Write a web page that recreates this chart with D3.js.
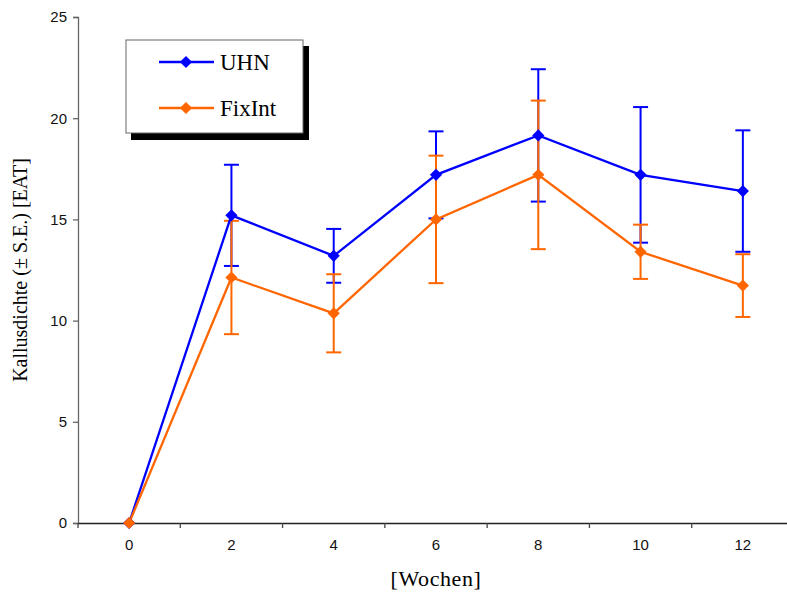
<!DOCTYPE html>
<html>
<head>
<meta charset="utf-8">
<script src="https://cdn.jsdelivr.net/npm/d3@7"></script>
<style>
  body { margin: 0; background: #fff; }
  svg { display: block; }
</style>
</head>
<body>
<svg id="chart"></svg>
<script>
// Wochen nach OP
const weeks = ["0", "2", "4", "6", "8", "10", "12"];
const yTicks = [0, 5, 10, 15, 20, 25];

// Kallusdichte, Mittelwert und Standardfehler
const uhnMean = [0, 15.2, 13.2, 17.2, 19.15, 17.2, 16.4];
const uhnSE = [0, 2.5, 1.33, 2.15, 3.27, 3.35, 3.0];
const fixMean = [0, 12.13, 10.36, 15.0, 17.2, 13.4, 11.73];
const fixSE = [0, 2.8, 1.93, 3.15, 3.67, 1.34, 1.55];

const seriesNames = ["UHN", "FixInt"];
const seriesColors = ["#0000ff", "#ff6600"];

const width = 787, height = 595;
const plot = { left: 78, right: 794, top: 17, bottom: 523 };

const svg = d3.select("#chart")
  .attr("width", width)
  .attr("height", height);

const x = d3.scaleBand()
  .domain(weeks)
  .range([plot.left, plot.right]);

const y = d3.scaleLinear()
  .domain([0, 25])
  .range([plot.bottom, plot.top]);

const cx = d => x(d) + x.bandwidth() / 2;

// Y-Achse
const yAxis = svg.append("g")
  .attr("transform", `translate(${plot.left},0)`)
  .call(d3.axisLeft(y).tickValues(yTicks).tickSize(5).tickPadding(6));
yAxis.select(".domain").attr("stroke", "#666").attr("stroke-width", 1.3);
yAxis.selectAll(".tick line").attr("stroke", "#666").attr("stroke-width", 1.3);
yAxis.selectAll("text")
  .style("font-family", "'Liberation Sans', Arial, sans-serif")
  .style("font-size", "15px")
  .attr("fill", "#111");

// X-Achse (Ticks zwischen den Kategorien, wie in Excel)
const xAxis = svg.append("g")
  .attr("transform", `translate(0,${plot.bottom})`)
  .call(d3.axisBottom(x).tickSize(0).tickPadding(16));
xAxis.select(".domain").attr("stroke", "#222").attr("stroke-width", 1.3);
xAxis.selectAll("text")
  .style("font-family", "'Liberation Sans', Arial, sans-serif")
  .style("font-size", "15px")
  .attr("fill", "#111");
xAxis.selectAll(".sep")
  .data(weeks)
  .enter()
  .append("line")
  .attr("class", "sep")
  .attr("x1", d => x(d))
  .attr("x2", d => x(d))
  .attr("y1", 0)
  .attr("y2", 5)
  .attr("stroke", "#444")
  .attr("stroke-width", 1.3);

// Achsentitel
svg.append("text")
  .attr("transform", `translate(27,${(plot.top + plot.bottom) / 2}) rotate(-90)`)
  .attr("text-anchor", "middle")
  .style("font-family", "'Liberation Serif', 'Times New Roman', serif")
  .style("font-size", "20px")
  .text("Kallusdichte (± S.E.) [EAT]");

svg.append("text")
  .attr("x", (plot.left + plot.right) / 2)
  .attr("y", 586)
  .attr("text-anchor", "middle")
  .style("font-family", "'Liberation Serif', 'Times New Roman', serif")
  .style("font-size", "22px")
  .style("letter-spacing", "0.6px")
  .text("[Wochen]");

const series = [
  { name: seriesNames[0], color: seriesColors[0], mean: uhnMean, se: uhnSE },
  { name: seriesNames[1], color: seriesColors[1], mean: fixMean, se: fixSE }
];

const rows = s => weeks.map((w, i) => ({ w, m: s.mean[i], e: s.se[i] }));

// Fehlerbalken
series.forEach(s => {
  const g = svg.append("g").attr("stroke", s.color).attr("stroke-width", 2);
  const data = rows(s).filter(d => d.e > 0);
  g.selectAll(".bar").data(data).enter().append("line")
    .attr("x1", d => cx(d.w)).attr("x2", d => cx(d.w))
    .attr("y1", d => y(d.m + d.e)).attr("y2", d => y(d.m - d.e));
  g.selectAll(".capT").data(data).enter().append("line")
    .attr("x1", d => cx(d.w) - 7.5).attr("x2", d => cx(d.w) + 7.5)
    .attr("y1", d => y(d.m + d.e)).attr("y2", d => y(d.m + d.e));
  g.selectAll(".capB").data(data).enter().append("line")
    .attr("x1", d => cx(d.w) - 7.5).attr("x2", d => cx(d.w) + 7.5)
    .attr("y1", d => y(d.m - d.e)).attr("y2", d => y(d.m - d.e));
});

// Linien
const line = d3.line().x(d => cx(d.w)).y(d => y(d.m));
series.forEach(s => {
  svg.append("path")
    .datum(rows(s))
    .attr("fill", "none")
    .attr("stroke", s.color)
    .attr("stroke-width", 2.3)
    .attr("d", line);
});

// Marker (Rauten)
const diamond = d3.symbol().type(d3.symbolDiamond2).size(95);
series.forEach(s => {
  svg.append("g").selectAll("path")
    .data(rows(s))
    .enter()
    .append("path")
    .attr("transform", d => `translate(${cx(d.w)},${y(d.m)})`)
    .attr("d", diamond)
    .attr("fill", s.color);
});

// Legende mit Schatten
const lg = svg.append("g").attr("transform", "translate(126,40)");
lg.append("rect")
  .attr("x", 5).attr("y", 6).attr("width", 178).attr("height", 94)
  .attr("fill", "#000");
lg.append("rect")
  .attr("x", 0).attr("y", 0).attr("width", 177).attr("height", 93)
  .attr("fill", "#fff").attr("stroke", "#666").attr("stroke-width", 1);

series.forEach((s, i) => {
  const ry = 22 + i * 46;
  lg.append("line")
    .attr("x1", 33).attr("x2", 88).attr("y1", ry).attr("y2", ry)
    .attr("stroke", s.color).attr("stroke-width", 2.3);
  lg.append("path")
    .attr("transform", `translate(60,${ry})`)
    .attr("d", diamond)
    .attr("fill", s.color);
  lg.append("text")
    .attr("x", 94).attr("y", ry + 8)
    .style("font-family", "'Liberation Serif', 'Times New Roman', serif")
    .style("font-size", "23px")
    .text(s.name);
});
</script>
</body>
</html>
